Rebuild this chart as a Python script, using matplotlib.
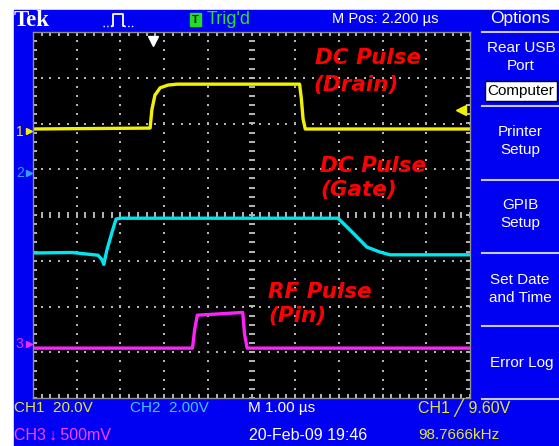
import numpy as np
import matplotlib
matplotlib.use("Agg")
import matplotlib.pyplot as plt
from matplotlib.patches import Rectangle

W, H = 559, 446

# traces, time in divisions (1.00 us/div), level in divisions
ch1_t = [0, 2.68, 2.72, 2.79, 2.91, 3.09, 3.30, 6.10, 6.14, 6.18, 6.23, 10]
ch1_v = [1.88, 1.90, 2.30, 2.62, 2.78, 2.84, 2.86, 2.86, 2.55, 2.10, 1.88, 1.88]

ch2_t = [0, 0.9, 1.49, 1.58, 1.62, 1.69, 1.81, 1.90, 1.99, 6.98, 7.14, 7.32, 7.64, 7.94, 8.17, 10]
ch2_v = [-0.83, -0.82, -0.88, -0.98, -1.08, -0.77, -0.37, -0.09, -0.07, -0.07, -0.22, -0.39, -0.70, -0.81, -0.87, -0.87]

ch3_t = [0, 3.65, 3.70, 3.76, 4.80, 4.84, 4.90, 10]
ch3_v = [-2.91, -2.91, -2.50, -2.19, -2.13, -2.60, -2.91, -2.91]

menu_items = ["Rear USB\nPort", "Printer\nSetup", "GPIB\nSetup", "Set Date\nand Time", "Error Log"]

blue = '#0000f2'
yel = '#f2f200'
cyan = '#00e6f0'
mag = '#ff22ff'
red = '#ff0000'
ui = ['Liberation Sans', 'DejaVu Sans']

fig = plt.figure(figsize=(W / 100, H / 100), dpi=100)
fig.patch.set_facecolor('white')

bg = fig.add_axes([0, 0, 1, 1])
bg.set_xlim(0, W)
bg.set_ylim(H, 0)
bg.axis('off')
bg.add_patch(Rectangle((14, 10), W - 14, H - 10, color=blue))

# menu separators
for yy in [32, 106, 180, 253, 326, 399]:
    bg.plot([482, W], [yy, yy], color='#c8c8ff', lw=1.5)

# pulse icon in header
bg.plot([103, 112], [26, 26], color='white', lw=1, ls=':')
bg.plot([112, 113, 113, 123, 123, 124], [26, 26, 14, 14, 26, 26], color='white', lw=1.3)
bg.plot([124, 133], [26, 26], color='white', lw=1, ls=':')
bg.add_patch(Rectangle((190, 13), 11, 13, color='#22dd22'))
bg.add_patch(Rectangle((485, 81), 72, 20, facecolor='white', edgecolor='black', lw=1))

# channel ground markers
bg.plot(29, 131, marker='>', color=yel, ms=4)
bg.plot(29, 173, marker='>', color='#30a0ff', ms=4)
bg.plot(29, 344, marker='>', color=mag, ms=4)

# scope graticule
ax = fig.add_axes([33 / W, 1 - 398 / H, 437 / W, 366 / H])
ax.set_facecolor('black')
ax.set_xlim(0, 10)
ax.set_ylim(-4, 4)
ax.set_xticks([])
ax.set_yticks([])
for s in ax.spines.values():
    s.set_color('#909090')
    s.set_linewidth(1)

fine_x = np.arange(0, 10.01, 0.2)
fine_y = np.arange(-4, 4.01, 0.2)
dot = dict(ls='none', marker='s', ms=1.9, color='#b4b4b4', mew=0)
for gx in [1, 2, 3, 4, 6, 7, 8, 9]:
    ax.plot([gx] * len(fine_y), fine_y, **dot)
for gy in [-3, -2, -1, 1, 2, 3]:
    ax.plot(fine_x, [gy] * len(fine_x), **dot)
tick = dict(ls='none', color='#b8b8b8', mew=1.4)
ax.plot([5] * len(fine_y), fine_y, marker='_', ms=5, **tick)
ax.plot(fine_x, [0] * len(fine_x), marker='|', ms=5, **tick)
for ex in [0, 10]:
    ax.plot([ex] * len(fine_y), fine_y, marker='_', ms=6, **tick)
for ey in [-4, 4]:
    ax.plot(fine_x, [ey] * len(fine_x), marker='|', ms=6, **tick)

ax.plot(ch1_t, ch1_v, color=yel, lw=2.4, solid_joinstyle='round')
ax.plot(ch2_t, ch2_v, color=cyan, lw=2.4, solid_joinstyle='round')
ax.plot(ch3_t, ch3_v, color=mag, lw=2.4, solid_joinstyle='round')
ax.plot(2.74, 3.8, marker='v', color='white', ms=7, clip_on=False)
ax.plot(9.8, (215 - 110) / 45.75, marker='<', color=yel, ms=7, clip_on=False)


def txt(x, y, s, **kw):
    kw.setdefault('va', 'center')
    kw.setdefault('family', ui)
    kw.setdefault('fontsize', 10.5)
    fig.text(x / W, 1 - y / H, s, **kw)


# header
txt(14, 21, "Tek", color='white', family=['Liberation Serif'], fontweight='bold', fontsize=16.5)
txt(195.5, 20, "T", color='black', fontsize=8, ha='center', fontweight='bold')
txt(207, 19, "Trig'd", color='#33dd33', fontsize=13)
txt(385, 19, "M Pos: 2.200 \u00b5s", color='white', ha='center')
txt(520, 19, "Options", color='white', ha='center', fontsize=12.5)

# menu
txt(521, 57, menu_items[0], color='white', ha='center', linespacing=1.4, fontsize=11)
txt(521, 91, "Computer", color='black', ha='center', fontsize=11)
txt(520, 141, menu_items[1], color='white', ha='center', linespacing=1.4, fontsize=11)
txt(520, 214, menu_items[2], color='white', ha='center', linespacing=1.4, fontsize=11)
txt(520, 289, menu_items[3], color='white', ha='center', linespacing=1.4, fontsize=11)
txt(522, 363, menu_items[4], color='white', ha='center', fontsize=11)

# channel numbers
txt(16, 132, "1", color=yel, fontsize=10)
txt(16, 173, "2", color='#30a0ff', fontsize=10)
txt(15, 344, "3", color=mag, fontsize=10)

# footer
txt(14, 408, "CH1  20.0V", color='#e6e640', fontsize=11)
txt(130, 408, "CH2  2.00V", color='#40c8ff', fontsize=11)
txt(248, 408, "M 1.00 \u00b5s", color='white', fontsize=11)
txt(418, 408, "CH1 \u2571 9.60V", color='#e6e640', fontsize=11.5)
txt(14, 435, "CH3\u2009\u2193\u2009500mV", color='#ff40ff', fontsize=11.5)
txt(249, 435, "20-Feb-09 19:46", color='white', fontsize=11.5)
txt(418, 435, "98.7666kHz", color='#e6e640', fontsize=11)

# annotations
red_kw = dict(color=red, family=['DejaVu Sans'], fontweight='bold', style='italic', fontsize=15.5)
txt(315, 58, "DC Pulse", **red_kw)
txt(313, 85, "(Drain)", **red_kw)
txt(320, 166, "DC Pulse", **red_kw)
txt(320, 190, "(Gate)", **red_kw)
txt(268, 292, "RF Pulse", **red_kw)
txt(268, 316, "(Pin)", **red_kw)

fig.savefig("out.png", dpi=100)
